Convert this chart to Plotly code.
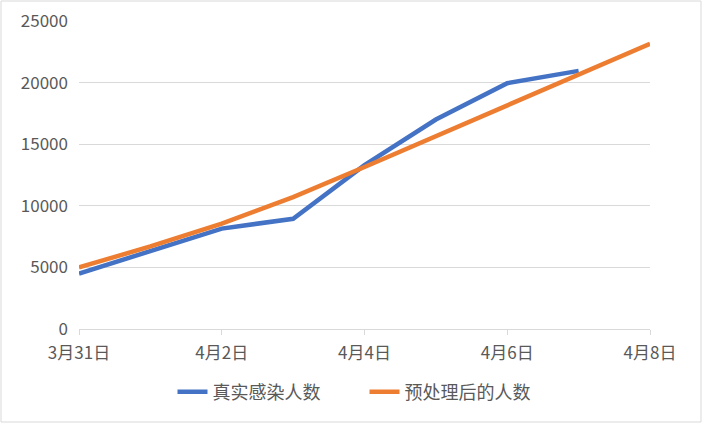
import plotly.graph_objects as go

# dates (x) and the two series
dates = ["2020-03-31", "2020-04-01", "2020-04-02", "2020-04-03", "2020-04-04",
         "2020-04-05", "2020-04-06", "2020-04-07", "2020-04-08"]
real_cases = [4500, 6300, 8150, 8950, 13300, 17000, 19950, 20950]
processed_cases = [5000, 6700, 8550, 10700, 13150, 15650, 18150, 20650, 23150]

tick_vals = ["2020-03-31", "2020-04-02", "2020-04-04", "2020-04-06", "2020-04-08"]
tick_text = ["3月31日", "4月2日", "4月4日", "4月6日", "4月8日"]

W, H = 702, 423
L, R, T, B = 79, 52, 21, 94

font = "Noto Sans CJK SC, DengXian, sans-serif"
grey = "#595959"

fig = go.Figure()
fig.add_trace(go.Scatter(x=dates[:len(real_cases)], y=real_cases, mode="lines",
                         name="真实感染人数",
                         line=dict(color="#4472C4", width=4.5)))
fig.add_trace(go.Scatter(x=dates, y=processed_cases, mode="lines",
                         name="预处理后的人数",
                         line=dict(color="#ED7D31", width=4.5)))

# thin frame round the whole chart
pw = W - L - R
ph = H - T - B
fig.add_shape(type="rect", xref="paper", yref="paper",
              x0=-(L - 1) / pw, x1=1 + (R - 1) / pw,
              y0=-(B - 1) / ph, y1=1 + (T - 1) / ph,
              line=dict(color="#D9D9D9", width=1))

fig.update_layout(
    width=W, height=H,
    margin=dict(l=L, r=R, t=T, b=B, autoexpand=False),
    paper_bgcolor="white", plot_bgcolor="white",
    font=dict(family=font, size=17, color=grey),
    showlegend=True,
    legend=dict(orientation="h", x=0.5, xanchor="center",
                y=-63 / ph, yanchor="middle",
                entrywidth=147, entrywidthmode="pixels",
                font=dict(size=18, color=grey)),
    xaxis=dict(type="date", range=["2020-03-31", "2020-04-08"],
               tickvals=tick_vals, ticktext=tick_text,
               showgrid=False, showline=True, linecolor="#D9D9D9", linewidth=1,
               ticks="outside", ticklen=5, tickcolor="#D9D9D9",
               ticklabelstandoff=4, zeroline=False),
    yaxis=dict(range=[0, 25000], dtick=5000, tickformat="d",
               showgrid=True, gridcolor="#D9D9D9", gridwidth=1,
               zeroline=False, showline=False, ticks="", ticklabelstandoff=10),
)

fig.write_html("out.html", config={"displayModeBar": False},
               post_script="document.body.style.margin='0';")
